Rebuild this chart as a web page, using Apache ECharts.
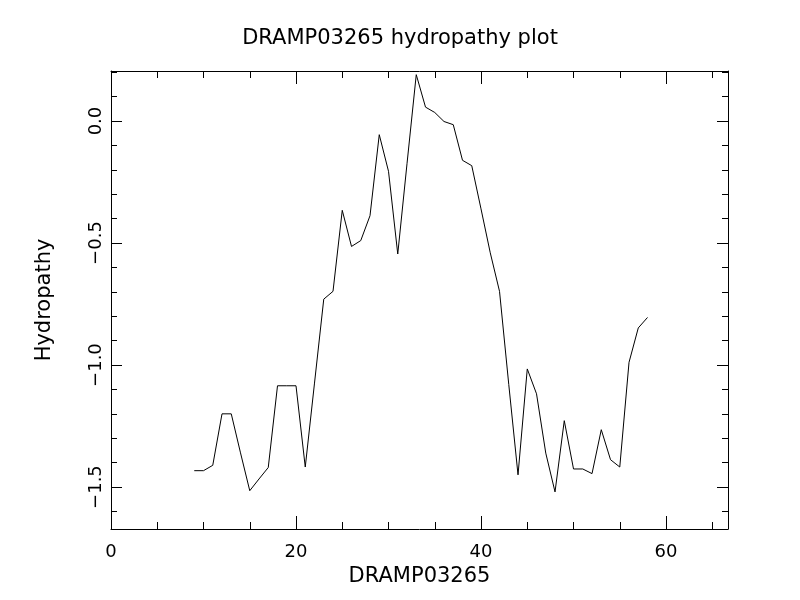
<!DOCTYPE html>
<html>
<head>
<meta charset="utf-8">
<script src="https://cdn.jsdelivr.net/npm/echarts@6/dist/echarts.min.js"></script>
<style>html,body{margin:0;padding:0;background:#fff;}#c{width:800px;height:600px;}</style>
</head>
<body>
<div id="c"></div>
<script>
const positions = [9,10,11,12,13,14,15,16,17,18,19,20,21,22,23,24,25,26,27,28,29,30,31,32,33,34,35,36,37,38,39,40,41,42,43,44,45,46,47,48,49,50,51,52,53,54,55,56,57,58];
const hydropathy = [-1.433,-1.433,-1.411,-1.20,-1.20,-1.36,-1.515,-1.467,-1.42,-1.085,-1.085,-1.085,-1.418,-1.074,-0.73,-0.698,-0.366,-0.514,-0.49,-0.388,-0.056,-0.206,-0.545,-0.175,0.19,0.057,0.035,-0.002,-0.015,-0.161,-0.183,-0.36,-0.54,-0.698,-1.08,-1.45,-1.016,-1.118,-1.361,-1.52,-1.228,-1.426,-1.426,-1.445,-1.265,-1.388,-1.418,-0.989,-0.848,-0.805];
const xMajorTicks = [0,20,40,60];
const xMinorTicks = [5,10,15,25,30,35,45,50,55,65];
const yMajorTicks = [-1.5,-1.0,-0.5,0.0];
const yMinorTicks = [-1.6,-1.4,-1.3,-1.2,-1.1,-0.9,-0.8,-0.7,-0.6,-0.4,-0.3,-0.2,-0.1,0.1,0.2];
const titleText = 'DRAMP03265 hydropathy plot';
const xName = 'DRAMP03265';
const yName = 'Hydropathy';

const FONT = 'DejaVu Sans';
const X_MIN = 0, X_MAX = 66.7, Y_MIN = -1.672, Y_MAX = 0.205;

function xAx(pos, ticks, len, showLine, showLabel, name) {
  return {
    type: 'value', position: pos, min: X_MIN, max: X_MAX,
    name: name || '', nameLocation: 'middle', nameGap: 37,
    nameTextStyle: {color: '#000', fontSize: 21, fontFamily: FONT},
    axisLine: {show: showLine, onZero: false, lineStyle: {color: '#000', width: 1}},
    axisTick: {show: true, inside: true, length: len, customValues: ticks, lineStyle: {color: '#000', width: 1}},
    axisLabel: {show: showLabel, customValues: ticks, margin: 14, color: '#000', fontSize: 18, fontFamily: FONT,
      formatter: v => String(v)},
    splitLine: {show: false}
  };
}
function yAx(pos, ticks, len, showLine, showLabel, name) {
  return {
    type: 'value', position: pos, min: Y_MIN, max: Y_MAX,
    name: name || '', nameLocation: 'middle', nameGap: 56, nameRotate: 90,
    nameTextStyle: {color: '#000', fontSize: 21, fontFamily: FONT},
    axisLine: {show: showLine, onZero: false, lineStyle: {color: '#000', width: 1}},
    axisTick: {show: true, inside: true, length: len, customValues: ticks, lineStyle: {color: '#000', width: 1}},
    axisLabel: {show: showLabel, customValues: ticks, rotate: 90, margin: 6, color: '#000', fontSize: 18, fontFamily: FONT,
      formatter: v => v.toFixed(1).replace('-', '\u2212')},
    splitLine: {show: false}
  };
}

const chart = echarts.init(document.getElementById('c'), null, {renderer: 'canvas'});
chart.setOption({
  animation: false,
  backgroundColor: '#fff',
  title: {text: titleText, left: 'center', top: 23,
    textStyle: {color: '#000', fontSize: 21, fontWeight: 'normal', fontFamily: FONT}},
  grid: {left: 111, right: 72, top: 71, bottom: 71, containLabel: false},
  xAxis: [
    xAx('bottom', xMajorTicks, 13, true, true, xName),
    xAx('bottom', xMinorTicks, 7, false, false),
    xAx('top', xMajorTicks, 13, true, false),
    xAx('top', xMinorTicks, 7, false, false)
  ],
  yAxis: [
    yAx('left', yMajorTicks, 11, true, true, yName),
    yAx('left', yMinorTicks, 6, false, false),
    yAx('right', yMajorTicks, 11, true, false),
    yAx('right', yMinorTicks, 6, false, false)
  ],
  series: [{
    type: 'line', xAxisIndex: 0, yAxisIndex: 0,
    data: positions.map((p, i) => [p, hydropathy[i]]),
    showSymbol: false, symbol: 'none',
    lineStyle: {color: '#000', width: 1}
  }]
});
</script>
</body>
</html>
